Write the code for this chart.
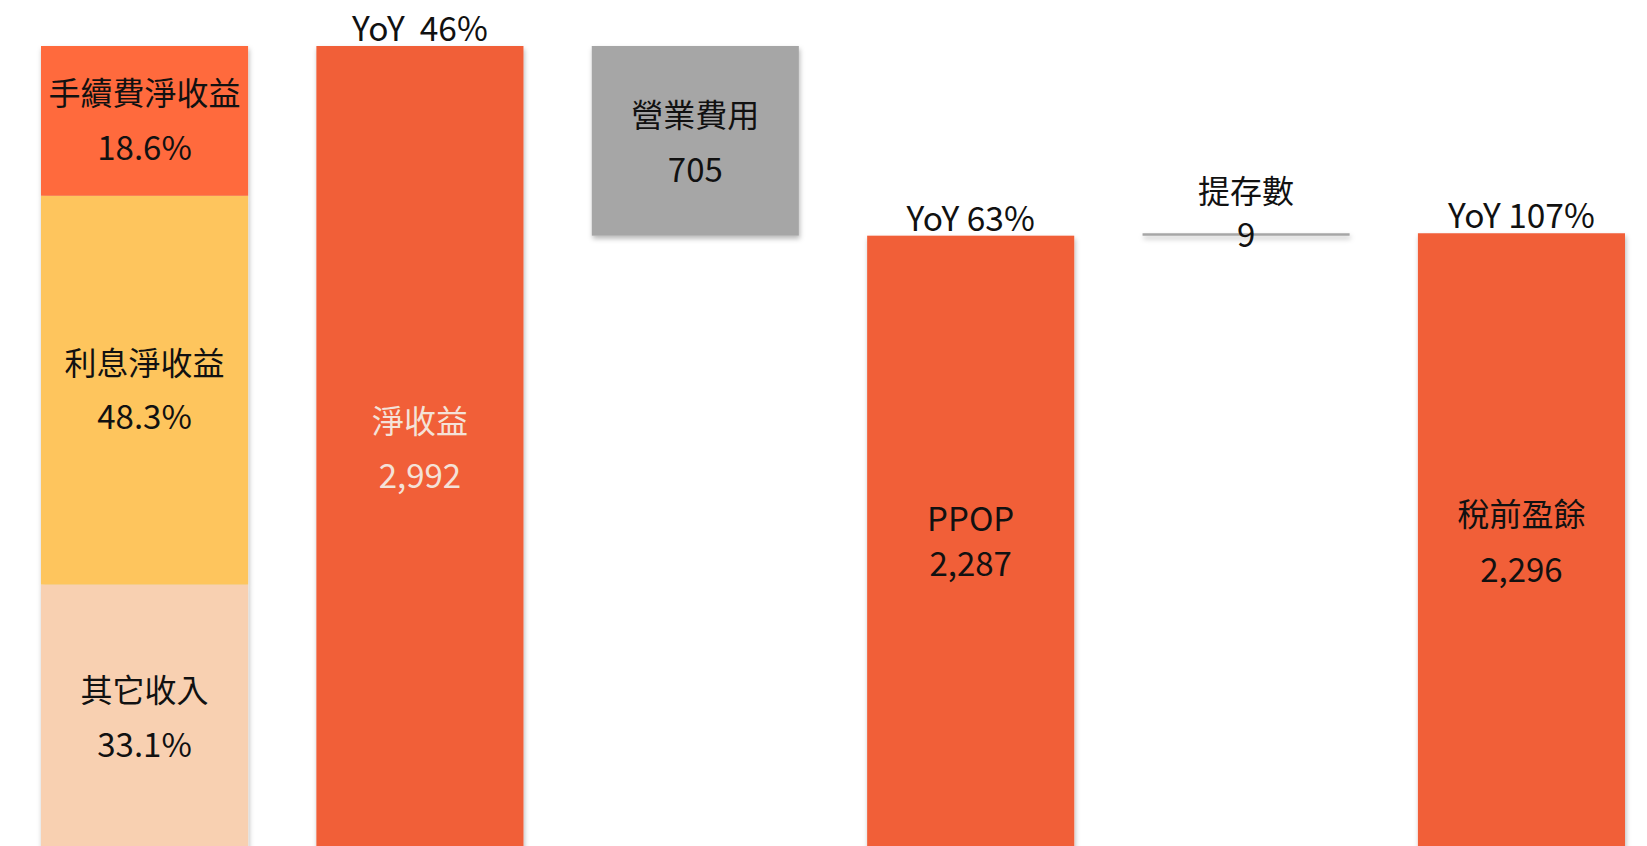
<!DOCTYPE html>
<html>
<head>
<meta charset="utf-8">
<script src="https://cdn.jsdelivr.net/npm/d3@7"></script>
<style>
  html, body { margin: 0; padding: 0; background: #fff; overflow: hidden; }
  text { font-family: "Noto Sans CJK TC", "Noto Sans", sans-serif; }
</style>
</head>
<body>
<div id="chart"></div>
<script>
// waterfall steps
var steps = ["收入組成", "淨收益", "營業費用", "PPOP", "提存數", "稅前盈餘"];
var stepLabels = ["", "淨收益", "營業費用", "PPOP", "提存數", "稅前盈餘"];
var stepValues = [2992, 2992, 705, 2287, 9, 2296];
var stepKinds = ["stack", "total", "down", "total", "up", "total"];
var yoyLabels = ["", "YoY  46%", "", "YoY 63%", "", "YoY 107%"];

// income composition (share of net income, %)
var mixNames = ["其它收入", "利息淨收益", "手續費淨收益"];
var mixShares = [33.1, 48.3, 18.6];

(function() {
	var width = 1647,
		height = 846;

	var svg = d3
		.select("#chart")
		.append("svg")
		.attr("width", width)
		.attr("height", height);

	var defs = svg.append("defs");
	var shadow = defs
		.append("filter")
		.attr("id", "shadow")
		.attr("x", "-10%")
		.attr("y", "-10%")
		.attr("width", "130%")
		.attr("height", "130%");
	shadow
		.append("feDropShadow")
		.attr("dx", 1)
		.attr("dy", 3)
		.attr("stdDeviation", 2.5)
		.attr("flood-color", "#000")
		.attr("flood-opacity", 0.28);

	var x = d3
		.scaleBand()
		.domain(steps)
		.range([41, 1625])
		.paddingInner(0.248)
		.paddingOuter(0);

	// zero sits just below the visible area, as in the slide
	var y = d3
		.scaleLinear()
		.domain([0, 2992])
		.range([851, 46]);

	var barColor = "#f15f39",
		greyColor = "#a6a6a6",
		mixColors = ["#f8d0b1", "#fec55d", "#ff6a3e"];

	var cnSize = "32px",
		numSize = "33px";

	// running total for the floating steps
	var bars = [],
		running = 0;
	steps.forEach(function(s, i) {
		var v = stepValues[i],
			lo,
			hi;
		if (stepKinds[i] === "total" || stepKinds[i] === "stack") {
			lo = 0;
			hi = v;
			running = v;
		} else if (stepKinds[i] === "down") {
			hi = running;
			lo = running - v;
			running = lo;
		} else {
			lo = running;
			hi = running + v;
			running = hi;
		}
		bars.push({ step: s, i: i, lo: lo, hi: hi, kind: stepKinds[i] });
	});

	var g = svg.append("g");

	// stacked composition bar
	var total = stepValues[0];
	var mixRow = {};
	mixNames.forEach(function(n, i) {
		mixRow[n] = (mixShares[i] / 100) * total;
	});
	var stacked = d3.stack().keys(mixNames)([mixRow]);

	var mixG = g.append("g").attr("filter", "url(#shadow)");
	mixG
		.selectAll("rect")
		.data(stacked)
		.enter()
		.append("rect")
		.attr("x", x(steps[0]))
		.attr("width", x.bandwidth())
		.attr("y", function(d) {
			return y(d[0][1]);
		})
		.attr("height", function(d) {
			return y(d[0][0]) - y(d[0][1]);
		})
		.attr("fill", function(d, i) {
			return mixColors[i];
		});

	var mixText = g
		.selectAll(".mixlabel")
		.data(stacked)
		.enter()
		.append("g")
		.attr("class", "mixlabel")
		.attr("transform", function(d) {
			var cy = (y(d[0][0]) + y(d[0][1])) / 2;
			return "translate(" + (x(steps[0]) + x.bandwidth() / 2) + "," + cy + ")";
		});
	mixText
		.append("text")
		.attr("text-anchor", "middle")
		.attr("y", -27)
		.attr("dy", "0.36em")
		.style("font-size", cnSize)
		.attr("fill", "#111")
		.text(function(d) {
			return d.key;
		});
	mixText
		.append("text")
		.attr("text-anchor", "middle")
		.attr("y", 27)
		.attr("dy", "0.36em")
		.style("font-size", numSize)
		.attr("fill", "#111")
		.text(function(d, i) {
			return d3.format(".1f")(mixShares[i]) + "%";
		});

	// waterfall bars
	var wf = bars.filter(function(d) {
		return d.kind !== "stack";
	});

	g
		.append("g")
		.attr("filter", "url(#shadow)")
		.selectAll("rect")
		.data(wf)
		.enter()
		.append("rect")
		.attr("x", function(d) {
			return x(d.step);
		})
		.attr("width", x.bandwidth())
		.attr("y", function(d) {
			return y(d.hi);
		})
		.attr("height", function(d) {
			return Math.max(2.5, y(d.lo) - y(d.hi));
		})
		.attr("fill", function(d) {
			return d.kind === "total" ? barColor : greyColor;
		});

	var fmt = d3.format(",");

	// labels inside / near bars
	wf.forEach(function(d) {
		var cx = x(d.step) + x.bandwidth() / 2;
		var lab = g.append("g");
		var name = stepLabels[d.i],
			val = fmt(stepValues[d.i]);
		var col = d.step === "淨收益" ? "#f4e2d8" : "#111";
		var cy, gap;
		if (d.kind === "up") {
			// tiny step: label sits above, value on the line
			cy = y(d.hi) - 20;
			gap = 44;
		} else {
			cy = (y(d.lo) + y(d.hi)) / 2;
			gap = d.step === "PPOP" ? 45 : 55;
			if (d.step === "營業費用") cy += 2;
			if (d.step === "PPOP") cy -= 2;
		}
		lab
			.append("text")
			.attr("x", cx)
			.attr("y", cy - gap / 2)
			.attr("dy", "0.36em")
			.attr("text-anchor", "middle")
			.style("font-size", d.step === "PPOP" ? numSize : cnSize)
			.attr("fill", col)
			.text(name);
		lab
			.append("text")
			.attr("x", cx)
			.attr("y", cy + gap / 2)
			.attr("dy", "0.36em")
			.attr("text-anchor", "middle")
			.style("font-size", numSize)
			.attr("fill", col)
			.text(val);
	});

	// YoY labels above total bars
	g
		.selectAll(".yoy")
		.data(
			wf.filter(function(d) {
				return yoyLabels[d.i] !== "";
			})
		)
		.enter()
		.append("text")
		.attr("class", "yoy")
		.attr("x", function(d) {
			return x(d.step) + x.bandwidth() / 2;
		})
		.attr("y", function(d) {
			return y(d.hi) - 5;
		})
		.attr("text-anchor", "middle")
		.style("font-size", "33.5px")
		.attr("fill", "#111")
		.style("white-space", "pre")
		.text(function(d) {
			return yoyLabels[d.i];
		});
})();
</script>
</body>
</html>
